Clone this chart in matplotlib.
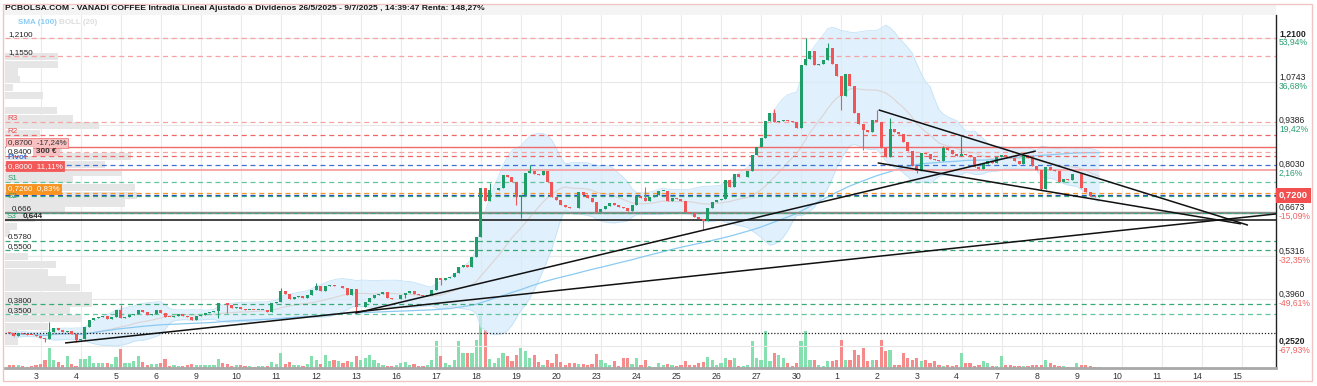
import matplotlib.pyplot as plt
from matplotlib.patches import Rectangle
import pandas as pd

plt.rcParams['font.family'] = ['Liberation Sans', 'DejaVu Sans']

W, H = 1317, 386

title = ("PCBOLSA.COM - VANADI COFFEE Intradia Lineal Ajustado a Dividenos "
         "26/5/2025 - 9/7/2025 , 14:39:47 Renta: 148,27%")

day_labels = ['3', '4', '5', '6', '9', '10', '11', '12', '13', '16', '17', '18',
              '19', '20', '23', '24', '25', '26', '27', '30', '1', '2', '3', '4',
              '7', '8', '9', '10', '11', '14', '15']

# sessions: (day index, first hourly slot, number of candles), 9 slots per day
sessions = [(-1, 3, 6)] + [(d, 0, 9) for d in range(26)] + [(26, 0, 6)]

first_open = 0.293
closes = [
    0.290, 0.281, 0.291, 0.288, 0.286, 0.284,                          # 2 jun
    0.283, 0.277, 0.272, 0.295, 0.307, 0.299, 0.293, 0.296, 0.289,     # 3
    0.268, 0.273, 0.310, 0.331, 0.337, 0.340, 0.345, 0.336, 0.342,     # 4
    0.362, 0.338, 0.342, 0.347, 0.351, 0.362, 0.356, 0.346, 0.349,     # 5
    0.362, 0.352, 0.342, 0.341, 0.345, 0.349, 0.345, 0.341, 0.332,     # 6
    0.343, 0.348, 0.354, 0.358, 0.360, 0.386, 0.383, 0.379, 0.370,     # 9
    0.372, 0.367, 0.362, 0.364, 0.362, 0.363, 0.364, 0.357, 0.383,     # 10
    0.388, 0.423, 0.411, 0.398, 0.404, 0.405, 0.401, 0.410, 0.425,     # 11
    0.436, 0.423, 0.437, 0.441, 0.436, 0.439, 0.431, 0.408, 0.428,     # 12
    0.371, 0.372, 0.389, 0.399, 0.408, 0.413, 0.418, 0.401, 0.396,     # 13
    0.398, 0.408, 0.415, 0.421, 0.411, 0.408, 0.406, 0.409, 0.424,     # 16
    0.462, 0.456, 0.461, 0.467, 0.477, 0.497, 0.503, 0.497, 0.527,     # 17
    0.590, 0.743, 0.702, 0.735, 0.738, 0.742, 0.782, 0.776, 0.762,     # 18
    0.716, 0.722, 0.790, 0.797, 0.787, 0.782, 0.795, 0.762, 0.716,     # 19
    0.705, 0.690, 0.684, 0.680, 0.679, 0.729, 0.722, 0.712, 0.700,     # 20
    0.668, 0.676, 0.686, 0.697, 0.690, 0.685, 0.682, 0.672, 0.690,     # 23
    0.718, 0.712, 0.703, 0.716, 0.721, 0.733, 0.734, 0.701, 0.711,     # 24
    0.709, 0.703, 0.669, 0.664, 0.652, 0.645, 0.641, 0.680, 0.700,     # 25
    0.704, 0.709, 0.768, 0.747, 0.786, 0.776, 0.778, 0.796, 0.845,     # 26
    0.870, 0.900, 0.950, 0.975, 0.948, 0.950, 0.955, 0.950, 0.948,     # 27
    0.930, 1.125, 1.145, 1.168, 1.125, 1.130, 1.140, 1.180, 1.128,     # 30
    1.092, 1.030, 1.098, 1.060, 0.975, 0.942, 0.922, 0.918, 0.955,     # 1 jul
    0.948, 0.868, 0.838, 0.926, 0.916, 0.910, 0.885, 0.857, 0.812,     # 2
    0.795, 0.853, 0.850, 0.832, 0.830, 0.828, 0.866, 0.862, 0.848,     # 3
    0.842, 0.850, 0.845, 0.840, 0.808, 0.802, 0.818, 0.826, 0.822,     # 4
    0.838, 0.845, 0.838, 0.836, 0.826, 0.818, 0.846, 0.835, 0.812,     # 7
    0.800, 0.740, 0.808, 0.800, 0.795, 0.762, 0.772, 0.768, 0.785,     # 8
    0.786, 0.743, 0.730, 0.719, 0.716, 0.720,                          # 9
]

volumes = [
    3, 3, 3, 2, 1, 2,
    3, 4, 8, 20, 8, 6, 3, 12, 4,
    2, 9, 9, 12, 5, 5, 5, 5, 4,
    11, 19, 5, 5, 7, 12, 6, 3, 4,
    4, 5, 9, 2, 3, 2, 2, 3, 4,
    3, 3, 3, 3, 3, 9, 5, 4, 2,
    3, 3, 2, 2, 1, 2, 2, 2, 6,
    4, 15, 4, 6, 3, 3, 2, 4, 12,
    8, 4, 13, 7, 8, 7, 5, 7, 6,
    12, 8, 10, 13, 8, 5, 3, 2, 2,
    3, 5, 6, 3, 4, 2, 2, 3, 8,
    27, 12, 5, 3, 8, 27, 15, 15, 15,
    28, 52, 38, 9, 5, 10, 15, 12, 7,
    13, 20, 17, 10, 13, 6, 3, 8, 5,
    14, 6, 3, 5, 5, 4, 4, 3, 4,
    14, 8, 5, 3, 7, 2, 10, 10, 4,
    10, 3, 8, 2, 1, 5, 3, 4, 3,
    2, 3, 7, 3, 3, 5, 6, 11, 8,
    3, 5, 10, 8, 10, 2, 2, 3, 27,
    10, 8, 37, 7, 15, 13, 10, 5, 2,
    5, 27, 37, 8, 8, 3, 2, 7, 7,
    8, 28, 8, 8, 18, 13, 20, 7, 8,
    8, 28, 17, 18, 3, 3, 15, 10, 8,
    10, 7, 8, 5, 7, 3, 2, 3, 2,
    3, 15, 5, 5, 2, 3, 7, 5, 2,
    2, 12, 3, 3, 2, 2, 2, 2, 3,
    3, 3, 8, 5, 3, 2, 2, 1, 1,
    5, 3, 3, 2, 1, 1,
]

# long wicks: (day, slot) -> price
wick_high = {(0, 3): 0.325, (2, 1): 0.378, (6, 1): 0.432, (7, 0): 0.446,
             (11, 3): 0.758, (12, 3): 0.815, (15, 2): 0.746, (18, 4): 0.990,
             (19, 2): 1.210, (19, 7): 1.195, (21, 0): 0.986, (21, 3): 0.962,
             (22, 6): 0.875, (23, 1): 0.905}
wick_low = {(0, 2): 0.262, (1, 0): 0.262, (4, 5): 0.338, (4, 7): 0.352,
            (8, 0): 0.354, (9, 2): 0.400, (10, 1): 0.440, (12, 0): 0.690,
            (12, 1): 0.650, (16, 6): 0.612, (20, 1): 0.985, (20, 6): 0.860,
            (22, 0): 0.790, (25, 1): 0.735}

# volume by price profile (left): top bin edge, bin size, widths
profile_top = 1.165
profile_bin = 0.024
profile_widths = [53, 53, 13, 15, 8, 38, 0, 52, 68, 94, 35, 57, 57, 126, 100,
                  117, 68, 130, 132, 120, 60, 30, 12, 5, 0, 0, 23, 51, 43, 61,
                  75, 87, 87, 65, 77, 43, 13, 13]

right_ticks = [1.2100, 1.0743, 0.9386, 0.8030, 0.6673, 0.5316, 0.3960, 0.2520]
right_pct = ['53,94%', '36,68%', '19,42%', '2,16%', '-15,09%', '-32,35%',
             '-49,61%', '-67,93%']
last_price = 0.7200

trend_lines = [((0.725, 0.260), (30.975, 0.662)),
               ((7.975, 0.353), (24.975, 0.858)),
               ((21.05, 0.986), (30.275, 0.627)),
               ((21.025, 0.821), (30.10, 0.631))]

level_prices = [1.21, 1.155, 0.948, 0.908, 0.87, 0.855, 0.842, 0.814, 0.80,
                0.761, 0.726, 0.721, 0.718, 0.666, 0.644, 0.578, 0.55, 0.38,
                0.35, 0.291]

# ---- build candles
xs, opens, highs, lows = [], [], [], []
prev = first_open
i = 0
for d, j0, n in sessions:
    for j in range(j0, j0 + n):
        c = closes[i]
        xs.append(d + j / 9)
        opens.append(prev)
        highs.append(wick_high.get((d, j), max(prev, c)))
        lows.append(wick_low.get((d, j), min(prev, c)))
        prev = c
        i += 1

s = pd.Series(closes)
mid = s.rolling(20, min_periods=1).mean()
sd = s.rolling(20, min_periods=2).std(ddof=0).fillna(0)
upper, lower = mid + 2 * sd, mid - 2 * sd
sma100 = s.rolling(100, min_periods=1).mean()

GREEN, RED = '#1f9d68', '#f05656'
VGREEN, VRED = '#86dfae', '#f58b8b'

fig = plt.figure(figsize=(W / 100, H / 100), dpi=100)
L, R, T, B = 5, 1276, 15, 368
rect = [L / W, 1 - B / H, (R - L) / W, (B - T) / H]
ax_vol = fig.add_axes(rect)
ax = fig.add_axes(rect, sharex=ax_vol)
ax.patch.set_visible(False)

ax.set_xlim(-0.775, 30.975)
ax.set_ylim(0.182, 1.2817)
ax_vol.set_ylim(0, B - T)

# grid
for d in range(len(day_labels)):
    ax_vol.axvline(d + 0.12, color='#ebebeb', lw=0.8, zorder=0)
for v in right_ticks:
    ax.axhline(v, color='#e8e8e8', lw=0.8, zorder=0)

# volume profile
ytr = ax.get_yaxis_transform()
for k, w in enumerate(profile_widths):
    top = profile_top - k * profile_bin
    ax.add_patch(Rectangle((0, top - profile_bin), w / (R - L), profile_bin * 0.92,
                           transform=ytr, color='#e6e6e6', lw=0, zorder=0.5))

# bollinger + sma
ax.fill_between(xs, lower, upper, color='#d6ecfb', alpha=0.75, lw=0, zorder=1)
ax.plot(xs, upper, color='#c4e2f8', lw=0.6, zorder=1.1)
ax.plot(xs, lower, color='#c4e2f8', lw=0.6, zorder=1.1)
ax.plot(xs, mid, color='#dcd4d4', lw=0.8, zorder=1.2)
ax.plot(xs, sma100, color='#8ccaf2', lw=0.9, zorder=1.3)

# horizontal levels
dash = (0, (4, 3))
level_styles = [('#f5a3a3', dash, 0.9), ('#f5a3a3', dash, 0.9),
                ('#f5a3a3', dash, 0.9), ('#f06464', dash, 0.9),
                ('#f06a6a', '-', 1.0), ('#f5a3a3', dash, 0.9),
                ('#f06464', dash, 0.9), ('#3d72d4', dash, 0.9),
                ('#f7a8a8', '-', 1.4), ('#62c49a', dash, 0.9),
                ('#f39a2a', dash, 0.9), ('#2448c8', dash, 0.9),
                ('#3aa878', dash, 0.9), ('#8c8c8c', '-', 1.7),
                ('#111111', '-', 1.1), ('#3aa878', dash, 0.9),
                ('#3aa878', dash, 0.9), ('#3aa878', dash, 0.9),
                ('#62c49a', dash, 0.9), ('#222222', (0, (1, 1.5)), 0.9)]
for v, (col, ls, lw) in zip(level_prices, level_styles):
    ax.axhline(v, color=col, ls=ls, lw=lw, zorder=2)
ax.axhline(0.666, color='#3aa878', ls=dash, lw=0.8, zorder=2.1)

# trend lines
for (x0, y0), (x1, y1) in trend_lines:
    ax.plot([x0, x1], [y0, y1], color='#111111', lw=1.1, zorder=4,
            solid_capstyle='butt')

# candles
cols = [GREEN if c >= o else RED for o, c in zip(opens, closes)]
ax.vlines(xs, lows, highs, colors=cols, lw=0.8, zorder=3)
bottoms = [min(o, c) for o, c in zip(opens, closes)]
heights = [max(abs(c - o), 0.0025) for o, c in zip(opens, closes)]
ax.bar(xs, heights, bottom=bottoms, width=0.075, color=cols, lw=0, zorder=3.1)

# volume
vcols = [VGREEN if c >= o else VRED for o, c in zip(opens, closes)]
ax_vol.bar(xs, volumes, width=0.08, color=vcols, lw=0, zorder=1)

# left labels
fs = 5.8
def left(txt, v, color='#222222', box=None, x=0.002, va='bottom', **kw):
    ax.text(x, v, txt, transform=ytr, fontsize=fs, color=color, va=va,
            ha='left', zorder=6, bbox=box, **kw)

left('1,2100', 1.21, x=0.0025)
left('1,1550', 1.155, x=0.0025)
left('R3', 0.948, color='#ee4a4a')
left('R2', 0.908, color='#ee4a4a')
left('R1', 0.855, color='#ee4a4a')
left('0,8700  -17,24%', 0.872, color='#333333',
     box=dict(boxstyle='square,pad=0.2', fc='#f8c0c0', ec='#ef8080', lw=0.6))
ax.add_patch(Rectangle((0.02, 0.842), 30 / (R - L), 0.031, transform=ytr,
                       fc='#f8c0c0', ec='none', zorder=5.5))
left('300 €', 0.845, color='#333333', x=0.0245, weight='bold')
left('0,8400', 0.845, color='#222222',
     box=dict(boxstyle='square,pad=0.15', fc='white', ec='none'))
left('Pivot', 0.826, color='#3d6fd0', weight='bold')
left('0,8000  11,11%', 0.80, color='white',
     box=dict(boxstyle='square,pad=0.2', fc='#f25a5a', ec='#f25a5a', lw=0.6))
left('S1', 0.763, color='#2e9e6e')
left('0,7260  0,83%', 0.729, color='white',
     box=dict(boxstyle='square,pad=0.2', fc='#f7931e', ec='#f7931e', lw=0.6))
left('S2', 0.726, color='#2e9e6e', va='top')
left('0,666', 0.667, x=0.005)
left('S3', 0.666, color='#2e9e6e', va='top', x=0.0015)
left('0,644', 0.645, x=0.014, weight='bold')
left('0.5780', 0.578, x=0.0025)
left('0,5500', 0.55, x=0.0025)
left('0,3800', 0.38, x=0.0025)
left('0,3500', 0.35, x=0.0025)

# right labels
rx = 1 + 3 / (R - L)
for k, (v, p) in enumerate(zip(right_ticks, right_pct)):
    bold = 'bold' if k in (0, len(right_ticks) - 1) else 'normal'
    ax.text(rx, v, f'{v:.4f}'.replace('.', ','), transform=ytr, fontsize=6.2,
            va='bottom', ha='left', color='#222222', weight=bold, clip_on=False)
    ax.text(rx, v, p, transform=ytr, fontsize=6.2, va='top', ha='left',
            color='#2aa070' if not p.startswith('-') else '#f06262', clip_on=False)
ax.text(rx, last_price, f'{last_price:.4f}'.replace('.', ','), transform=ytr,
        fontsize=6.8, va='center', ha='left', color='white', weight='bold',
        bbox=dict(boxstyle='square,pad=0.3', fc='#f25050', ec='none'), zorder=7)

# axes cosmetics
for a in (ax, ax_vol):
    for sp in a.spines.values():
        sp.set_visible(False)
ax.spines['right'].set_visible(True)
ax.spines['right'].set_color('#222222')
ax.spines['right'].set_linewidth(1.0)
ax.spines['bottom'].set_visible(True)
ax.spines['bottom'].set_color('#a8a8a8')
ax.spines['bottom'].set_linewidth(2.0)
ax.set_yticks([])
ax_vol.set_yticks([])
ax.set_xticks(range(len(day_labels)))
ax.set_xticklabels(day_labels)
ax.tick_params(axis='x', length=0, labelsize=6.3, pad=3, colors='#333333')
ax_vol.tick_params(axis='x', length=0, labelbottom=False)

# header
fig.patches.append(Rectangle((3 / W, 1 - 15 / H), (R - 3) / W, 10 / H,
                             transform=fig.transFigure, fc='#f4f4f4', ec='none'))
fig.patches.append(Rectangle((3 / W, 1 - 381 / H), 1309 / W, 377 / H,
                             transform=fig.transFigure, fc='none', ec='#f0c4c4',
                             lw=1.0))
fig.text(5 / W, 1 - 8 / H, title, fontsize=6.1, weight='bold', color='#1a1a1a',
         va='center', ha='left')
fig.text(18 / W, 1 - 22 / H, 'SMA (100)', fontsize=5.8, weight='bold',
         color='#8ccaf2', va='center')
fig.text(59 / W, 1 - 22 / H, 'BOLL (20)', fontsize=5.8, weight='bold',
         color='#dddddd', va='center')

fig.savefig('out.png', dpi=100)
